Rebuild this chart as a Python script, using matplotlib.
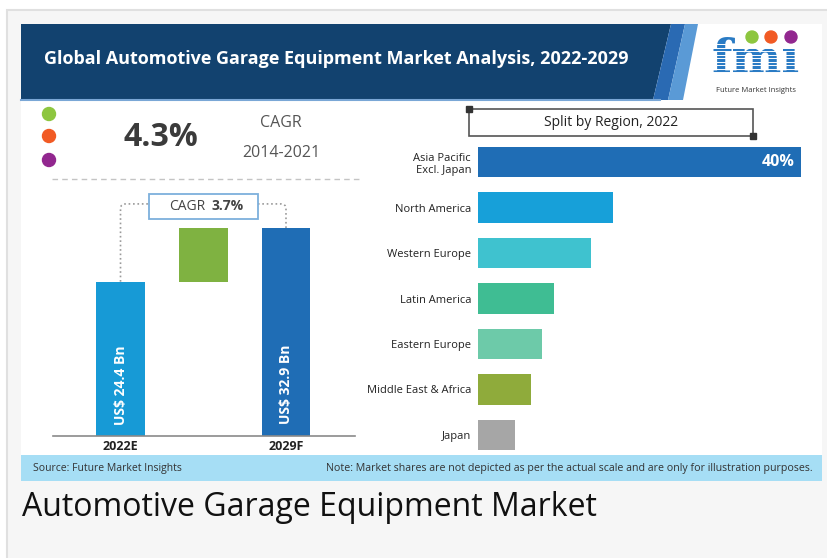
import numpy as np
import matplotlib.pyplot as plt
from matplotlib.patches import Rectangle, Polygon, Circle, PathPatch
from matplotlib.path import Path

plt.rcParams['font.family'] = ['Open Sans', 'DejaVu Sans']

# market size (US$ Bn)
years = ['2022E', '2029F']
market_size = [24.4, 32.9]
cagr_hist = '4.3%'
cagr_hist_period = '2014-2021'
cagr_fcst = '3.7%'

# regional split 2022 (illustrative, not to scale)
regions = ['Asia Pacific\nExcl. Japan', 'North America', 'Western Europe',
           'Latin America', 'Eastern Europe', 'Middle East & Africa', 'Japan']
region_share = [40, 16.7, 14.0, 9.4, 7.9, 6.6, 4.6]
region_colors = ['#1f6db5', '#17a0d9', '#3fc2cf', '#3fbd93', '#6dcaa9', '#8fab3b', '#a6a6a6']

W, H = 827, 558
fig = plt.figure(figsize=(W / 100, H / 100), dpi=100)
fig.patch.set_facecolor('white')


def box(x0, y0, x1, y1):
    # pixel box (top-left origin) -> figure fraction rect
    return [x0 / W, 1 - y1 / H, (x1 - x0) / W, (y1 - y0) / H]


#background layer in pixel units
bg = fig.add_axes([0, 0, 1, 1])
bg.set_xlim(0, W)
bg.set_ylim(H, 0)
bg.axis('off')

bg.add_patch(Rectangle((7, 10), W, H, facecolor='#f6f6f6', edgecolor='#e0e0e0', lw=1.5))
bg.add_patch(Rectangle((21, 24), 801, 457, facecolor='white', edgecolor='none'))

#header band
bg.add_patch(Polygon([(21, 24), (671, 24), (653, 100), (21, 100)], closed=True, color='#12426f', lw=0))
bg.add_patch(Polygon([(671, 24), (685, 24), (668, 100), (653, 100)], closed=True, color='#2a6ab3', lw=0))
bg.add_patch(Polygon([(685, 24), (698, 24), (683, 100), (668, 100)], closed=True, color='#5a9ad6', lw=0))
bg.plot([21, 660], [100, 100], color='#7aa7d6', lw=1.5)
bg.text(44, 59, 'Global Automotive Garage Equipment Market Analysis, 2022-2029',
        color='white', fontsize=13, fontweight='bold', va='center', ha='left')

#logo
bg.text(756, 60, 'fm\u0131', family='DejaVu Serif', fontsize=34, fontweight='bold',
        color='#2a7bc4', ha='center', va='center', zorder=2)
for yy in np.arange(44, 78, 3.5):
    bg.plot([700, 812], [yy, yy], color='white', lw=0.7, zorder=3)
for cx, col in zip([752, 771, 791], ['#8dc63f', '#f15a24', '#92278f']):
    bg.add_patch(Circle((cx, 37), 6, color=col, zorder=4))
bg.text(756, 90, 'Future Market Insights', fontsize=5.5, color='#333333', ha='center', va='center')

#historic CAGR block
for cy, col in zip([114, 136, 160], ['#8dc63f', '#f15a24', '#92278f']):
    bg.add_patch(Circle((49, cy), 6.5, color=col))
bg.text(161, 137, cagr_hist, fontsize=23, fontweight='bold', color='#3b3b3b', ha='center', va='center')
bg.text(281, 123, 'CAGR', fontsize=11.5, color='#555555', ha='center', va='center')
bg.text(281, 153, cagr_hist_period, fontsize=11.5, color='#555555', ha='center', va='center')
bg.plot([52, 360], [179, 179], ls=(0, (4, 3)), color='#c4c4c4', lw=1)

#split box
bg.add_patch(Rectangle((469, 109), 284, 27, facecolor='white', edgecolor='#555555', lw=1.2))
bg.plot([469, 753], [109, 136], 's', ms=4, color='#333333', ls='none')
bg.text(611, 123, 'Split by Region, 2022', fontsize=10, color='#222222', ha='center', va='center')

#footer
bg.add_patch(Rectangle((21, 455), 801, 26, facecolor='#a6def5', edgecolor='none'))
bg.text(33, 468, 'Source: Future Market Insights', fontsize=7.5, color='#333333', va='center')
bg.text(813, 468, 'Note: Market shares are not depicted as per the actual scale and are only for illustration purposes.',
        fontsize=7.7, color='#333333', va='center', ha='right')

bg.text(22, 507, 'Automotive Garage Equipment Market', fontsize=23, color='#111111', va='center')

#market size waterfall
ax1 = fig.add_axes(box(53, 190, 355, 436))
ax1.patch.set_alpha(0)
ax1.bar([0, 2], market_size, width=0.59, color=['#179ad6', '#1f6db5'])
ax1.bar(1, market_size[1] - market_size[0], bottom=market_size[0], width=0.59, color='#7fb241')
ax1.set_xlim(-0.816, 2.834)
ax1.set_ylim(0, 38.9)
for s in ['top', 'left', 'right']:
    ax1.spines[s].set_visible(False)
ax1.spines['bottom'].set_color('#8a8a8a')
ax1.spines['bottom'].set_linewidth(1.2)
ax1.set_yticks([])
ax1.set_xticks([0, 2], years)
ax1.tick_params(axis='x', length=0, pad=3, labelsize=9, labelcolor='#222222')
for lab in ax1.get_xticklabels():
    lab.set_fontweight('bold')
for i, v in zip([0, 2], market_size):
    ax1.text(i, 8.1, f'US$ {v} Bn', rotation=90, ha='center', va='center',
             color='white', fontsize=10, fontweight='bold')

#connector and forecast CAGR box
lvl = 36.7
bx0, bx1 = 0.34, 1.66
rx, ry = 0.07, 0.7
MOVE, LINE, CURVE = Path.MOVETO, Path.LINETO, Path.CURVE3
left_path = Path([(0, market_size[0]), (0, lvl - ry), (0, lvl), (rx, lvl), (bx0, lvl)],
                 [MOVE, LINE, CURVE, CURVE, LINE])
right_path = Path([(bx1, lvl), (2 - rx, lvl), (2, lvl), (2, lvl - ry), (2, market_size[1])],
                  [MOVE, LINE, CURVE, CURVE, LINE])
for p in [left_path, right_path]:
    ax1.add_patch(PathPatch(p, facecolor='none', edgecolor='#9a9a9a', lw=1.2, ls=':', clip_on=False))
ax1.add_patch(Rectangle((bx0, 34.3), bx1 - bx0, 3.95, facecolor='white', edgecolor='#7db0dc',
                        lw=1.3, clip_on=False))
ax1.text(1.03, 36.3, 'CAGR', ha='right', va='center', fontsize=10, color='#444444')
ax1.text(1.10, 36.3, cagr_fcst, ha='left', va='center', fontsize=10, color='#444444', fontweight='bold')

#regional split bars
ax2 = fig.add_axes(box(478, 140, 815, 455))
ax2.patch.set_alpha(0)
ax2.barh(range(len(regions)), region_share, height=0.66, color=region_colors)
ax2.set_xlim(0, 41.73)
ax2.set_ylim(6.44, -0.484)
for s in ax2.spines.values():
    s.set_visible(False)
ax2.set_xticks([])
ax2.set_yticks(range(len(regions)), regions)
ax2.tick_params(axis='y', length=0, pad=5, labelsize=8, labelcolor='#222222')
for lab in ax2.get_yticklabels():
    lab.set_multialignment('right')
ax2.text(region_share[0] - 0.74, 0, f'{region_share[0]:.0f}%', ha='right', va='center',
         color='white', fontsize=11.5, fontweight='bold')

fig.savefig('out.png', dpi=100)
